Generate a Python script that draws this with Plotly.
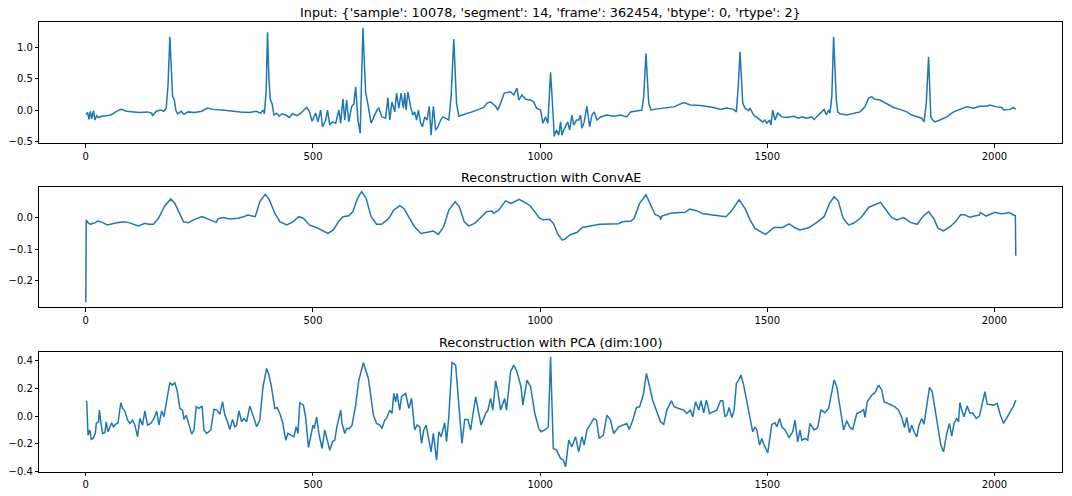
import plotly.graph_objects as go

# Input signal
input_x = [0, 4, 7, 10, 13, 17, 20, 24, 28, 35, 45, 55, 62, 70, 78, 90, 105, 120, 135, 145,
           147, 155, 165, 172, 177, 181, 185, 188, 191, 195, 198, 202, 210, 216, 225, 240, 255, 268, 280, 300,
           320, 340, 360, 375, 385, 390, 393, 397, 400, 403, 406, 410, 414, 420, 426, 432, 440, 448, 455, 465,
           475, 486, 492, 498, 506, 511, 517, 521, 528, 532, 537, 543, 550, 557, 561, 566, 570, 574, 579, 585,
           590, 594, 599, 604, 607, 610, 614, 616, 620, 625, 628, 634, 641, 645, 652, 660, 665, 669, 674, 680,
           684, 689, 694, 699, 702, 705, 709, 715, 720, 724, 728, 732, 737, 741, 746, 751, 756, 760, 765, 770,
           775, 781, 786, 792, 799, 804, 810, 816, 821, 828, 839, 850, 865, 876, 883, 891, 902, 907, 913, 921,
           935, 942, 949, 953, 960, 968, 979, 986, 992, 1001, 1006, 1012, 1017, 1023, 1028, 1031, 1036, 1041, 1045, 1048,
           1052, 1056, 1061, 1065, 1070, 1074, 1080, 1085, 1089, 1092, 1097, 1103, 1109, 1114, 1119, 1125, 1133, 1147, 1162, 1177,
           1191, 1199, 1213, 1224, 1228, 1233, 1239, 1244, 1250, 1272, 1294, 1316, 1331, 1353, 1382, 1397, 1411, 1426, 1432, 1436,
           1440, 1446, 1451, 1459, 1462, 1470, 1477, 1484, 1490, 1495, 1499, 1505, 1508, 1512, 1517, 1523, 1532, 1543, 1558, 1569,
           1576, 1587, 1598, 1603, 1613, 1620, 1625, 1630, 1635, 1638, 1642, 1646, 1652, 1655, 1660, 1675, 1690, 1704, 1715, 1723,
           1730, 1737, 1748, 1763, 1778, 1792, 1807, 1818, 1829, 1840, 1845, 1850, 1855, 1860, 1864, 1869, 1880, 1895, 1910, 1924,
           1939, 1954, 1968, 1983, 1990, 2005, 2016, 2020, 2034, 2042, 2047]
input_y = [-0.07, -0.04, -0.15, -0.02, -0.14, -0.01, -0.16, -0.09, -0.12, -0.10, -0.09, -0.08, -0.05, -0.01, 0.01, -0.02, -0.03, -0.04, -0.03, -0.05,
           -0.09, -0.02, 0.0, -0.02, 0.03, 0.4, 1.17, 0.6, 0.22, 0.16, 0.0, -0.06, -0.02, -0.07, -0.03, -0.04, -0.02, 0.03, 0.01, 0.0,
           -0.02, -0.03, -0.04, -0.02, -0.05, 0.0, -0.06, 0.3, 1.24, 0.5, 0.17, 0.1, -0.08, -0.05, -0.1, -0.06, -0.08, -0.12, -0.06, -0.09,
           -0.04, 0.04, -0.02, -0.18, -0.05, -0.19, 0.0, -0.27, -0.16, 0.0, -0.24, -0.19, -0.21, 0.0, -0.21, 0.18, -0.16, 0.16, -0.19, 0.05,
           0.1, 0.37, -0.16, -0.37, 0.5, 1.31, 0.6, 0.28, 0.13, -0.06, -0.21, -0.11, 0.0, 0.03, -0.11, -0.13, 0.2, -0.16, 0.13, -0.03,
           0.27, 0.03, 0.27, 0.03, 0.27, 0.0, 0.29, 0.05, -0.08, -0.03, -0.16, 0.0, -0.21, -0.27, -0.11, -0.16, 0.06, -0.40, 0.06, -0.32,
           -0.27, -0.16, -0.11, -0.13, -0.16, 0.21, 1.13, 0.11, -0.1, -0.08, -0.06, -0.03, 0.01, 0.04, 0.11, 0.13, 0.06, 0.0, 0.11, 0.27,
           0.29, 0.24, 0.35, 0.16, 0.24, 0.17, 0.16, 0.13, 0.03, 0.0, -0.21, -0.11, -0.21, 0.6, 0.0, -0.42, -0.32, -0.40, -0.19, -0.40,
           -0.32, -0.27, -0.19, -0.32, -0.08, -0.24, -0.16, -0.16, -0.08, -0.29, -0.19, 0.06, -0.27, -0.08, -0.03, -0.16, -0.11, -0.08, -0.1, -0.08,
           -0.11, -0.03, -0.01, 0.0, 0.21, 0.90, 0.11, 0.0, 0.01, 0.03, 0.05, 0.12, 0.08, 0.07, 0.04, 0.01, 0.03, 0.01, -0.03, 0.37,
           0.93, 0.11, 0.03, -0.01, 0.03, -0.08, -0.12, -0.15, -0.19, -0.16, -0.21, -0.16, -0.24, 0.0, -0.16, -0.05, -0.11, -0.12, -0.1, -0.13,
           -0.11, -0.13, -0.11, -0.15, -0.08, -0.03, 0.01, -0.08, 0.0, -0.05, 0.21, 1.17, 0.16, -0.03, -0.06, -0.08, -0.06, -0.03, 0.05, 0.19,
           0.21, 0.17, 0.16, 0.10, 0.04, 0.01, -0.03, -0.08, -0.11, -0.13, -0.19, 0.11, 0.85, -0.11, -0.16, -0.19, -0.16, -0.11, -0.03, 0.01,
           0.05, 0.03, 0.06, 0.06, 0.08, 0.05, 0.04, 0.0, 0.01, 0.04, 0.01]

# Reconstruction with ConvAE
convae_x = [0, 1, 6, 11, 17, 27, 36, 48, 63, 82, 93, 116, 130, 139, 149, 160, 173, 187, 196, 207,
            215, 226, 237, 256, 268, 277, 287, 291, 302, 317, 336, 347, 357, 373, 383, 395, 404, 416, 427, 442,
            454, 469, 479, 492, 507, 522, 533, 545, 556, 566, 579, 588, 598, 607, 617, 628, 640, 651, 666, 678,
            691, 700, 712, 723, 738, 753, 765, 776, 788, 799, 813, 822, 833, 843, 856, 871, 882, 894, 898, 909,
            924, 936, 954, 970, 979, 988, 998, 1006, 1021, 1029, 1040, 1049, 1055, 1067, 1081, 1093, 1109, 1131, 1154, 1173,
            1181, 1200, 1207, 1219, 1233, 1242, 1253, 1264, 1265, 1268, 1287, 1306, 1318, 1329, 1344, 1359, 1378, 1390, 1409, 1420,
            1438, 1451, 1462, 1473, 1485, 1496, 1504, 1515, 1534, 1548, 1561, 1572, 1591, 1606, 1625, 1637, 1647, 1656, 1667, 1679,
            1690, 1707, 1723, 1740, 1749, 1759, 1774, 1785, 1800, 1815, 1830, 1842, 1855, 1867, 1876, 1888, 1903, 1914, 1926, 1936,
            1945, 1956, 1967, 1969, 1982, 2001, 2013, 2024, 2032, 2040, 2046, 2047]
convae_y = [-0.268, -0.008, -0.019, -0.022, -0.019, -0.012, -0.016, -0.024, -0.019, -0.014, -0.016, -0.027, -0.019, -0.022, -0.022, -0.003, 0.034, 0.058, 0.044, 0.007,
            -0.014, -0.017, -0.008, 0.002, -0.005, -0.012, -0.016, -0.005, -0.001, -0.005, -0.003, 0.002, 0.007, 0.002, 0.049, 0.073, 0.055, 0.013, -0.014, -0.024,
            -0.016, 0.002, -0.003, -0.024, -0.032, -0.043, -0.051, -0.04, -0.014, 0.002, 0.005, 0.018, 0.06, 0.081, 0.06, 0.002, -0.022, -0.022, -0.005, 0.023,
            0.037, 0.028, -0.003, -0.029, -0.051, -0.047, -0.043, -0.054, -0.029, 0.023, 0.049, 0.034, -0.014, -0.027, -0.019, 0.002, 0.018, 0.02, 0.013, 0.023,
            0.052, 0.044, 0.057, 0.044, 0.035, 0.018, -0.002, -0.008, -0.006, -0.019, -0.056, -0.072, -0.068, -0.054, -0.048, -0.032, -0.027, -0.022, -0.021, -0.02,
            -0.014, -0.012, -0.003, 0.044, 0.071, 0.044, 0.009, 0.002, -0.008, 0.004, 0.013, 0.015, 0.015, 0.026, 0.021, 0.011, 0.007, 0.005, 0.002, 0.018,
            0.055, 0.028, -0.008, -0.035, -0.045, -0.054, -0.045, -0.032, -0.032, -0.021, -0.033, -0.04, -0.033, -0.019, 0.002, 0.044, 0.065, 0.052, -0.003, -0.024,
            -0.019, 0.0, 0.031, 0.042, 0.047, 0.028, -0.001, -0.008, -0.001, -0.016, -0.022, 0.002, 0.018, -0.005, -0.035, -0.043, -0.029, -0.014, 0.009, 0.007,
            0.0, 0.004, 0.007, 0.015, 0.004, 0.016, 0.011, 0.013, 0.015, 0.009, 0.005, -0.121]

# Reconstruction with PCA (dim:100)
pca_x = [0, 2, 5, 9, 12, 16, 21, 23, 28, 30, 33, 37, 42, 45, 49, 54, 57, 61, 66, 71,
         77, 81, 86, 92, 97, 103, 108, 114, 119, 125, 130, 136, 143, 150, 156, 161, 167, 172, 178, 181,
         185, 190, 196, 201, 207, 213, 216, 221, 227, 233, 238, 243, 249, 256, 260, 266, 275, 282, 289, 295,
         301, 306, 312, 317, 323, 328, 332, 337, 343, 348, 354, 361, 369, 376, 383, 390, 398, 403, 408, 416,
         421, 427, 433, 440, 445, 451, 458, 463, 467, 471, 479, 484, 490, 495, 500, 503, 508, 513, 517, 520,
         526, 531, 537, 543, 548, 552, 557, 561, 564, 570, 574, 580, 586, 594, 601, 606, 611, 616, 622, 627,
         633, 640, 647, 652, 658, 662, 669, 674, 678, 682, 685, 691, 695, 704, 711, 717, 724, 729, 735, 739,
         744, 749, 755, 760, 765, 772, 777, 782, 790, 794, 799, 806, 814, 821, 828, 834, 841, 847, 858, 865,
         870, 880, 885, 891, 896, 902, 907, 913, 922, 926, 935, 942, 949, 958, 962, 971, 979, 988, 997, 1002,
         1012, 1018, 1023, 1029, 1036, 1045, 1051, 1056, 1063, 1070, 1078, 1085, 1092, 1097, 1103, 1112, 1118, 1124, 1130, 1139,
         1147, 1155, 1162, 1173, 1184, 1191, 1196, 1204, 1212, 1219, 1227, 1234, 1241, 1248, 1257, 1265, 1272, 1279, 1289, 1295,
         1305, 1316, 1323, 1331, 1336, 1342, 1349, 1354, 1360, 1366, 1373, 1382, 1389, 1397, 1402, 1407, 1411, 1416, 1422, 1427,
         1432, 1437, 1442, 1448, 1455, 1461, 1468, 1473, 1477, 1483, 1488, 1493, 1501, 1505, 1510, 1517, 1521, 1527, 1532, 1539,
         1548, 1556, 1561, 1567, 1572, 1576, 1583, 1589, 1594, 1603, 1611, 1618, 1627, 1635, 1647, 1653, 1659, 1668, 1675, 1682,
         1688, 1697, 1706, 1712, 1715, 1720, 1730, 1737, 1745, 1752, 1757, 1767, 1774, 1781, 1789, 1796, 1802, 1807, 1813, 1818,
         1823, 1829, 1834, 1840, 1845, 1851, 1857, 1863, 1869, 1875, 1882, 1888, 1895, 1901, 1906, 1911, 1917, 1921, 1924, 1928,
         1933, 1940, 1946, 1952, 1960, 1967, 1972, 1979, 1984, 1992, 1998, 2006, 2012, 2020, 2025, 2033, 2042, 2047]
pca_y = [0.108, 0.103, -0.137, -0.10, -0.168, -0.161, -0.125, -0.053, -0.041, 0.043, -0.041, -0.125, -0.12, -0.041, -0.113, -0.072, -0.048, -0.077, -0.058, -0.048,
         0.096, 0.055, 0.036, -0.029, -0.053, -0.029, -0.065, -0.149, -0.017, -0.065, 0.038, -0.065, -0.053, -0.017, 0.036, -0.065, 0.038, -0.005, 0.115, 0.163,
         0.242, 0.223, 0.24, 0.187, 0.055, 0.043, -0.024, 0.007, -0.053, -0.13, -0.10, 0.067, 0.055, 0.072, -0.10, -0.125, -0.10, 0.048, 0.043, 0.012,
         0.103, 0.007, -0.041, -0.096, -0.024, -0.077, -0.065, 0.038, -0.041, -0.017, -0.041, 0.072, -0.005, -0.077, -0.029, 0.211, 0.343, 0.295, 0.223, 0.055,
         0.062, 0.019, -0.041, -0.173, -0.125, -0.137, -0.149, -0.077, -0.125, 0.096, 0.079, -0.01, -0.226, -0.149, -0.065, -0.089, -0.005, -0.125, -0.185, -0.233,
         -0.10, -0.161, -0.245, -0.185, -0.173, -0.089, -0.024, 0.043, -0.053, -0.125, -0.089, -0.089, -0.065, 0.079, 0.259, 0.331, 0.384, 0.331, 0.271, 0.151,
         0.007, -0.053, -0.065, -0.089, -0.029, -0.017, 0.043, 0.019, 0.163, 0.103, 0.163, 0.043, 0.139, 0.163, 0.055, 0.127, -0.10, -0.065, -0.077, -0.197,
         -0.10, -0.065, -0.161, -0.257, -0.125, -0.317, -0.113, -0.149, -0.048, -0.185, -0.005, 0.384, 0.367, 0.055, -0.197, -0.024, -0.024, -0.10, 0.139, 0.019,
         -0.065, 0.019, 0.043, 0.127, 0.043, 0.254, 0.175, 0.043, 0.127, 0.043, 0.319, 0.367, 0.319, 0.211, 0.079, 0.259, 0.211, 0.024, -0.089, -0.113,
         -0.096, -0.077, 0.427, -0.233, -0.245, -0.305, -0.317, -0.365, -0.173, -0.221, -0.149, -0.257, -0.149, -0.209, -0.10, -0.053, -0.017, -0.029, -0.161, -0.137,
         0.007, -0.029, -0.125, -0.077, -0.065, -0.053, -0.096, -0.029, 0.062, 0.067, 0.151, 0.307, 0.211, 0.11, 0.031, -0.041, -0.06, 0.043, 0.11, 0.067,
         0.055, 0.043, 0.019, 0.043, -0.005, 0.103, 0.043, 0.11, 0.024, 0.115, 0.019, 0.031, 0.043, 0.11, 0.11, -0.005, 0.007, 0.062, -0.01, 0.043,
         0.235, 0.259, 0.295, 0.223, 0.103, -0.017, -0.113, -0.077, -0.10, -0.209, -0.161, -0.209, -0.264, -0.173, -0.06, -0.048, -0.077, -0.017, -0.077, -0.10,
         -0.154, -0.113, -0.029, -0.185, -0.10, -0.173, -0.161, -0.173, -0.053, -0.10, -0.084, 0.043, 0.024, 0.055, 0.259, 0.211, 0.079, -0.10, -0.034, -0.082,
         -0.096, 0.019, 0.031, 0.048, -0.01, 0.103, 0.151, 0.168, 0.223, 0.187, 0.103, 0.086, 0.079, 0.067, 0.043, -0.01, -0.082, -0.01, -0.12, -0.065,
         -0.113, -0.149, -0.065, -0.017, -0.058, 0.091, 0.206, 0.175, 0.043, -0.077, -0.209, -0.257, -0.125, -0.053, -0.144, -0.053, -0.017, -0.041, 0.098, 0.043,
         -0.005, 0.072, 0.019, 0.024, -0.017, 0.0, 0.072, 0.175, 0.086, 0.079, 0.079, 0.091, 0.019, -0.053, -0.024, 0.024, 0.072, 0.115]

titles = ["Input: {'sample': 10078, 'segment': 14, 'frame': 362454, 'btype': 0, 'rtype': 2}",
          "Reconstruction with ConvAE",
          "Reconstruction with PCA (dim:100)"]

x_ticks = [0, 500, 1000, 1500, 2000]
y1_ticks = [-0.5, 0.0, 0.5, 1.0]
y1_labels = ["\u22120.5", "0.0", "0.5", "1.0"]
y2_ticks = [-0.2, -0.1, 0.0]
y2_labels = ["\u22120.2", "\u22120.1", "0.0"]
y3_ticks = [-0.4, -0.2, 0.0, 0.2, 0.4]
y3_labels = ["\u22120.4", "\u22120.2", "0.0", "0.2", "0.4"]

W, H = 1072, 496
LINE = '#1f77b4'
FONT = "DejaVu Sans"

# axes boxes in pixels (top, bottom)
boxes = [(22.3, 143.3), (187.3, 307.3), (351.7, 471.7)]
x_dom = [39.3 / W, 1062.3 / W]
y_ranges = [[-0.531, 1.399], [-0.284, 0.0947], [-0.40, 0.463]]
y_tick_sets = [(y1_ticks, y1_labels), (y2_ticks, y2_labels), (y3_ticks, y3_labels)]
series = [(input_x, input_y), (convae_x, convae_y), (pca_x, pca_y)]

fig = go.Figure()

axis_style = dict(
    showline=True, mirror=True, linecolor='black', linewidth=1,
    ticks='outside', ticklen=3.5, tickwidth=0.8, tickcolor='black',
    showgrid=False, zeroline=False, automargin=False,
    tickfont=dict(family=FONT, size=10, color='black'),
)

layout = dict(
    width=W, height=H, autosize=False,
    margin=dict(l=0, r=0, t=0, b=0),
    paper_bgcolor='white', plot_bgcolor='white',
    showlegend=False, hovermode=False,
    font=dict(family=FONT, size=10, color='black'),
)

annotations = []
for i, ((xs, ys), (top, bottom), yr, (tv, tt), title) in enumerate(
        zip(series, boxes, y_ranges, y_tick_sets, titles)):
    n = '' if i == 0 else str(i + 1)
    fig.add_trace(go.Scatter(x=xs, y=ys, mode='lines',
                             line=dict(color=LINE, width=1.5),
                             xaxis='x' + n, yaxis='y' + n))
    dom = [1 - bottom / H, 1 - top / H]
    layout['xaxis' + n] = dict(axis_style, domain=x_dom, range=[-102.35, 2149.35],
                               tickvals=x_ticks, anchor='y' + n)
    layout['yaxis' + n] = dict(axis_style, domain=dom, range=yr,
                               tickvals=tv, ticktext=tt, anchor='x' + n)
    annotations.append(dict(text=title, xref='paper', yref='paper',
                            x=(x_dom[0] + x_dom[1]) / 2, y=dom[1],
                            xanchor='center', yanchor='bottom', yshift=0,
                            showarrow=False,
                            font=dict(family=FONT, size=12.8, color='black')))

layout['annotations'] = annotations
fig.update_layout(**layout)

# page body margin would shift the figure; drop it
fig.write_html("out.html", config={'displayModeBar': False},
               post_script="document.body.style.margin='0px';")
